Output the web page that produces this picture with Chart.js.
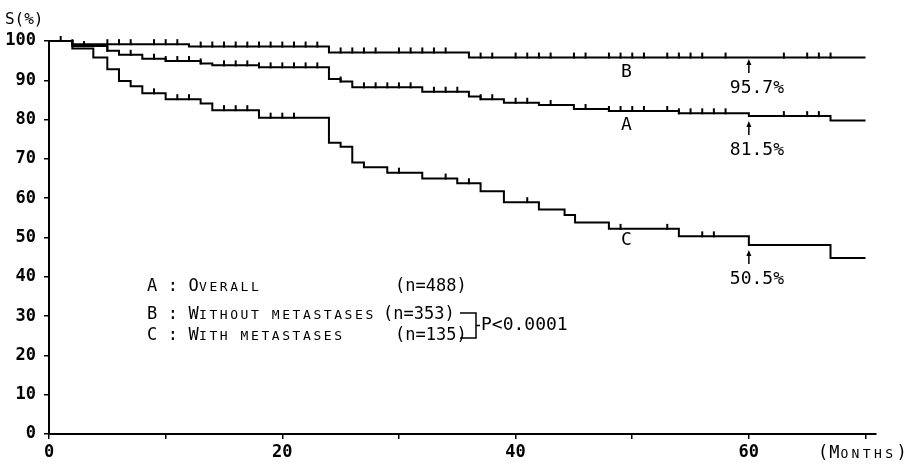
<!DOCTYPE html>
<html><head><meta charset="utf-8">
<script src="https://cdn.jsdelivr.net/npm/chart.js@4"></script>
<style>html,body{margin:0;padding:0;background:#fff}</style>
</head><body>
<canvas id="c" width="912" height="467"></canvas>
<script>
// ---- data ----
const monthsA = [0,2,5,6,8,10,13,14,18,24,25,26,32,36,37,39,42,45,48,54,60,67,70];
const survA   = [100,98.7,97.5,96.5,95.5,94.9,94.3,93.8,93.3,90.3,89.7,88.2,87.1,85.9,85.2,84.3,83.7,82.7,82.2,81.6,80.9,79.8,79.8];
const monthsB = [0,2,12,24,36,70];
const survB   = [100,99.2,98.6,97.1,95.8,95.8];
const monthsC = [0,2,3.8,5,6,7,8,10,13,14,18,24,25,26,27,29,32,35,37,39,42,44.2,45.1,48,54,60,67,70];
const survC   = [100,98.1,95.8,92.8,89.8,88.5,86.7,85.2,84.1,82.4,80.5,74.1,73.1,69.1,67.9,66.5,65.0,63.8,61.8,59.0,57.1,55.7,53.8,52.2,50.3,48.1,44.8,44.8];
const censorA = [3,5,7,9,10,11,12,13,15,16,17,18,19,20,21,22,23,25,27,28,29,30,31,33,34,35,37,38,40,41,43,46,48,49,50,51,53,54,55,56,57,58,63,65,66];
const censorB = [1,2,5,6,7,9,10,11,13,14,15,16,17,18,19,20,21,22,23,25,26,27,28,30,31,32,33,34,37,38,40,41,42,43,45,46,48,49,50,51,53,54,55,56,58,63,65,66,67];
const censorC = [9,11,12,15,16,17,19,20,21,30,34,36,41,49,53,56,57];
const curveNames = ['A','B','C'];
const legendRows = ['A : Overall','B : Without metastases','C : With metastases'];
const legendN = ['(n=488)','(n=353)','(n=135)'];
const pValue = 'P<0.0001';
const markMonth = 60;
const markLabels = ['81.5%','95.7%','50.5%'];   // A, B, C
const curveLabelMonth = 49.5;
const xTicks = [0,10,20,30,40,50,60,70];
const yLabel = 'S(%)';
const xLabel = '(Months)';

function stepAt(ts, vs, t){ let v = vs[0]; for(let i=0;i<ts.length;i++){ if(ts[i] <= t) v = vs[i]; } return v; }
function pts(ts, vs){ return ts.map((t,i)=>({x:t,y:vs[i]})); }

// censor tick glyph (upward only)
const tick = document.createElement('canvas');
tick.width = 4; tick.height = 12;
{ const g = tick.getContext('2d'); g.fillStyle = '#000'; g.fillRect(1,1,2,6); }

const MONO = '"DejaVu Sans Mono", "Liberation Mono", monospace';

function drawCaps(ctx, text, x, y, adv, big, small){
  for(let i=0;i<text.length;i++){
    const ch = text[i];
    const isLower = ch !== ch.toUpperCase();
    ctx.font = (isLower ? small : big) + 'px ' + MONO;
    ctx.fillText(ch.toUpperCase(), x + i*adv, y + (isLower ? 1 : 0));
  }
}

const deco = {
  id: 'deco',
  afterDraw(chart){
    const ctx = chart.ctx, xs = chart.scales.x, ys = chart.scales.y;
    ctx.save();
    ctx.fillStyle = '#000'; ctx.strokeStyle = '#000';
    ctx.textBaseline = 'middle'; ctx.textAlign = 'left';
    drawCaps(ctx, yLabel, 5, 20, 9.6, 16, 16);
    drawCaps(ctx, xLabel, 818, 454, 11.2, 17, 13);
    const rowY = [287, 315, 336];
    const nX = [395, 383, 395];
    for(let i=0;i<3;i++){
      drawCaps(ctx, legendRows[i], 147, rowY[i], 10.4, 17, 13);
      ctx.font = '17px ' + MONO;
      ctx.fillText(legendN[i], nX[i], rowY[i]);
    }
    ctx.lineWidth = 1.5;
    ctx.beginPath();
    ctx.moveTo(460, 313); ctx.lineTo(476, 313); ctx.lineTo(476, 338); ctx.lineTo(460, 338);
    ctx.moveTo(476, 325.5); ctx.lineTo(480, 325.5);
    ctx.stroke();
    ctx.font = '18px ' + MONO;
    ctx.fillText(pValue, 481, 325);
    const cl = [[survA, monthsA],[survB, monthsB],[survC, monthsC]];
    const lx = xs.getPixelForValue(curveLabelMonth);
    ctx.textAlign = 'center';
    ctx.font = '18px ' + MONO;
    const curveOff = [14, 15, 11];
    for(let i=0;i<3;i++){
      const v = stepAt(cl[i][1], cl[i][0], curveLabelMonth);
      ctx.fillText(curveNames[i], lx, ys.getPixelForValue(v) + curveOff[i]);
    }
    const ax = xs.getPixelForValue(markMonth);
    for(let i=0;i<3;i++){
      const v = stepAt(cl[i][1], cl[i][0], markMonth);
      const yy = ys.getPixelForValue(v);
      const tip = yy + (i===1 ? 1.5 : 5);
      ctx.lineWidth = 1.5;
      ctx.beginPath(); ctx.moveTo(ax, tip+3); ctx.lineTo(ax, tip+14); ctx.stroke();
      ctx.beginPath(); ctx.moveTo(ax, tip); ctx.lineTo(ax-2.5, tip+6); ctx.lineTo(ax+2.5, tip+6); ctx.closePath(); ctx.fill();
      ctx.textAlign = 'left';
      ctx.font = '18px ' + MONO;
      ctx.fillText(markLabels[i], ax - 19, tip + 29);
    }
    ctx.restore();
  }
};

const lineDS = (ts, vs) => ({ data: pts(ts, vs), showLine: true, stepped: 'before', borderColor: '#000', borderWidth: 2, pointRadius: 0, fill: false, clip: false });
const tickDS = (cs, ts, vs) => ({ data: cs.map(t => ({x:t, y:stepAt(ts, vs, t)})), showLine: false, pointStyle: tick, pointRadius: 3, borderColor: '#000', backgroundColor: '#000', clip: false });

new Chart(document.getElementById('c'), {
  type: 'scatter',
  data: { datasets: [
    lineDS(monthsA, survA), lineDS(monthsB, survB), lineDS(monthsC, survC),
    tickDS(censorA, monthsA, survA), tickDS(censorB, monthsB, survB), tickDS(censorC, monthsC, survC)
  ]},
  options: {
    responsive: false, animation: false,
    layout: { padding: { top: 41, right: 36, left: 0, bottom: 0 } },
    plugins: { legend: { display: false }, tooltip: { enabled: false } },
    scales: {
      x: {
        type: 'linear', min: 0, max: 70.9,
        afterBuildTicks: s => { s.ticks = xTicks.map(v => ({value: v})); },
        afterFit: s => { s.height = 33; },
        border: { color: '#000', width: 2 },
        grid: { drawOnChartArea: false, drawTicks: true, tickLength: 5, color: '#000', lineWidth: 1.5 },
        ticks: { autoSkip: false, maxRotation: 0, color: '#000', padding: 3,
          font: { family: MONO, size: 17, weight: 'bold' },
          callback: v => (v % 20 === 0 ? String(v) : '') }
      },
      y: {
        type: 'linear', min: 0, max: 100,
        afterFit: s => { s.width = 49; },
        border: { color: '#000', width: 2 },
        grid: { drawOnChartArea: false, drawTicks: true, tickLength: 5, color: '#000', lineWidth: 1.5 },
        ticks: { stepSize: 10, color: '#000', padding: 8,
          font: { family: MONO, size: 17, weight: 'bold' } }
      }
    }
  },
  plugins: [deco]
});
</script>
</body></html>
